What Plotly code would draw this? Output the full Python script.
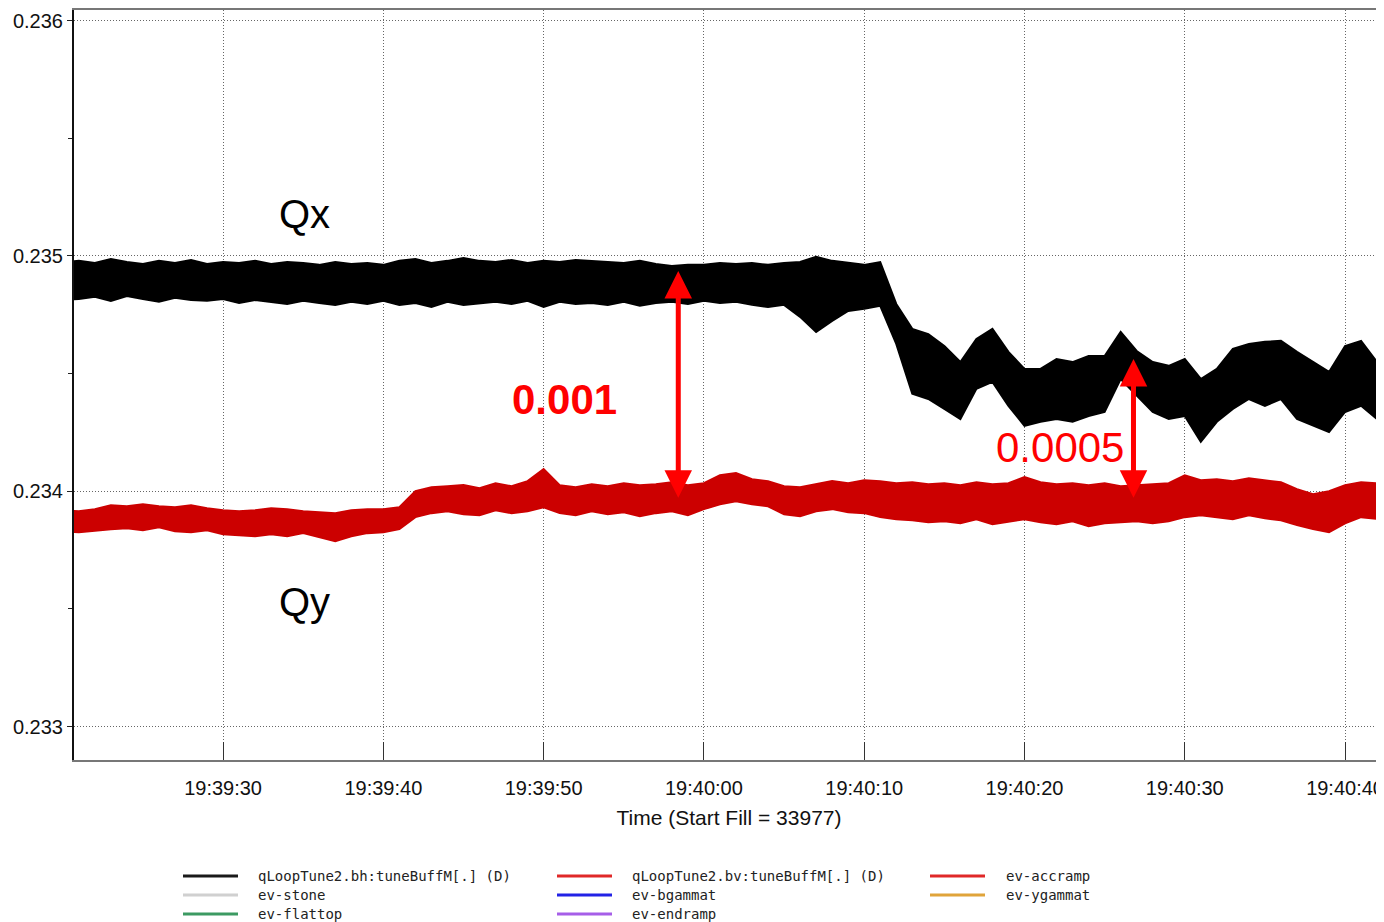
import pandas as pd
import plotly.graph_objects as go

# ---------------- data ----------------
# seconds after 19:39:00
t_sec = list(range(20, 104))

qx_hi = [0.234975, 0.234979, 0.234970, 0.234987, 0.234974, 0.234966, 0.234979, 0.234970, 0.234983, 0.234966,
         0.234974, 0.234970, 0.234979, 0.234966, 0.234974, 0.234970, 0.234962, 0.234974, 0.234966, 0.234970,
         0.234962, 0.234979, 0.234987, 0.234970, 0.234979, 0.234991, 0.234979, 0.234974, 0.234983, 0.234970,
         0.234979, 0.234974, 0.234983, 0.234979, 0.234974, 0.234970, 0.234979, 0.234966, 0.234957, 0.234962,
         0.234962, 0.234970, 0.234966, 0.234970, 0.234962, 0.234970, 0.234974, 0.234996, 0.234979, 0.234970,
         0.234962, 0.234974, 0.234796, 0.234690, 0.234668, 0.234617, 0.234549, 0.234647, 0.234690, 0.234592,
         0.234520, 0.234520, 0.234562, 0.234549, 0.234575, 0.234575, 0.234677, 0.234596, 0.234549, 0.234533,
         0.234562, 0.234477, 0.234520, 0.234605, 0.234626, 0.234635, 0.234639, 0.234592, 0.234549, 0.234507,
         0.234617, 0.234639, 0.234549, 0.234560]
qx_lo = [0.234815, 0.234817, 0.234826, 0.234809, 0.234830, 0.234817, 0.234805, 0.234822, 0.234813, 0.234809,
         0.234817, 0.234800, 0.234813, 0.234805, 0.234796, 0.234809, 0.234800, 0.234792, 0.234805, 0.234796,
         0.234809, 0.234792, 0.234800, 0.234783, 0.234805, 0.234792, 0.234800, 0.234805, 0.234796, 0.234809,
         0.234783, 0.234805, 0.234796, 0.234800, 0.234792, 0.234805, 0.234788, 0.234800, 0.234805, 0.234796,
         0.234809, 0.234800, 0.234805, 0.234792, 0.234783, 0.234792, 0.234741, 0.234677, 0.234724, 0.234766,
         0.234775, 0.234788, 0.234626, 0.234414, 0.234392, 0.234350, 0.234307, 0.234435, 0.234465, 0.234363,
         0.234278, 0.234295, 0.234307, 0.234295, 0.234320, 0.234337, 0.234477, 0.234405, 0.234337, 0.234307,
         0.234320, 0.234210, 0.234295, 0.234350, 0.234392, 0.234363, 0.234392, 0.234307, 0.234278, 0.234252,
         0.234337, 0.234363, 0.234307, 0.234320]

qy_hi = [0.233917, 0.233915, 0.233924, 0.233941, 0.233936, 0.233945, 0.233936, 0.233932, 0.233941, 0.233928,
         0.233919, 0.233915, 0.233919, 0.233928, 0.233924, 0.233915, 0.233911, 0.233907, 0.233919, 0.233924,
         0.233924, 0.233932, 0.234000, 0.234017, 0.234021, 0.234026, 0.234013, 0.234034, 0.234021, 0.234043,
         0.234094, 0.234026, 0.234017, 0.234030, 0.234021, 0.234034, 0.234026, 0.234030, 0.234038, 0.234026,
         0.234034, 0.234068, 0.234077, 0.234051, 0.234043, 0.234021, 0.234017, 0.234030, 0.234043, 0.234034,
         0.234047, 0.234043, 0.234034, 0.234038, 0.234030, 0.234034, 0.234026, 0.234038, 0.234030, 0.234034,
         0.234060, 0.234038, 0.234030, 0.234034, 0.234026, 0.234034, 0.234021, 0.234026, 0.234030, 0.234034,
         0.234068, 0.234047, 0.234051, 0.234043, 0.234055, 0.234047, 0.234038, 0.234009, 0.233987, 0.234000,
         0.234026, 0.234038, 0.234034, 0.234030]
qy_lo = [0.233828, 0.233826, 0.233834, 0.233839, 0.233843, 0.233834, 0.233847, 0.233830, 0.233826, 0.233834,
         0.233817, 0.233813, 0.233809, 0.233817, 0.233809, 0.233822, 0.233805, 0.233788, 0.233809, 0.233822,
         0.233826, 0.233839, 0.233890, 0.233907, 0.233915, 0.233902, 0.233898, 0.233919, 0.233907, 0.233915,
         0.233932, 0.233907, 0.233898, 0.233915, 0.233902, 0.233911, 0.233894, 0.233907, 0.233915, 0.233898,
         0.233924, 0.233945, 0.233957, 0.233945, 0.233936, 0.233902, 0.233894, 0.233915, 0.233924, 0.233911,
         0.233907, 0.233890, 0.233881, 0.233877, 0.233868, 0.233872, 0.233864, 0.233881, 0.233860, 0.233872,
         0.233881, 0.233868, 0.233860, 0.233872, 0.233851, 0.233864, 0.233868, 0.233872, 0.233864, 0.233872,
         0.233890, 0.233898, 0.233890, 0.233881, 0.233898, 0.233885, 0.233877, 0.233856, 0.233839, 0.233826,
         0.233864, 0.233890, 0.233881, 0.233875]

y_ticks = [0.233, 0.234, 0.235, 0.236]
x_tick_seconds = [30, 40, 50, 60, 70, 80, 90, 100]

legend_names = ["qLoopTune2.bh:tuneBuffM[.] (D)", "ev-stone", "ev-flattop",
                "qLoopTune2.bv:tuneBuffM[.] (D)", "ev-bgammat", "ev-endramp",
                "ev-accramp", "ev-ygammat"]
legend_colors = ["#1a1a1a", "#d0d0d0", "#3c9a62",
                 "#e02828", "#2222e6", "#a65ee8",
                 "#e02828", "#e0a43a"]

# annotation values
gap_big = (58.4, 0.234936, 0.233966)     # time, upper tip, lower tip
gap_small = (86.8, 0.234562, 0.233966)

# ---------------- build ----------------
base = pd.Timestamp("2020-01-01 19:39:00")
def ts(s):
    return base + pd.to_timedelta(s, unit="s")

xs = [ts(s) for s in t_sec]

fig = go.Figure()

def band(hi, lo, color, name):
    fig.add_trace(go.Scatter(
        x=xs + xs[::-1], y=hi + lo[::-1], fill="toself", fillcolor=color,
        line=dict(color=color, width=2), mode="lines", name=name, showlegend=False,
        hoverinfo="skip"))

band(qx_hi, qx_lo, "#000000", legend_names[0])
band(qy_hi, qy_lo, "#cc0000", legend_names[3])

# text labels
fig.add_annotation(x=ts(35.05), y=0.235178, text="Qx", showarrow=False,
                   font=dict(family="Liberation Sans, Arial", size=40, color="black"))
fig.add_annotation(x=ts(35.05), y=0.233530, text="Qy", showarrow=False,
                   font=dict(family="Liberation Sans, Arial", size=40, color="black"))
fig.add_annotation(x=ts(51.33), y=0.234392, text="<b>0.001</b>", showarrow=False,
                   font=dict(family="Liberation Sans, Arial", size=42, color="#ff0000"))
fig.add_annotation(x=ts(82.22), y=0.234188, text="0.0005", showarrow=False,
                   font=dict(family="Liberation Sans, Arial", size=42, color="#ff0000"))

for (tt, top, bot) in (gap_big, gap_small):
    fig.add_annotation(x=ts(tt), y=top, ax=ts(tt), ay=bot, xref="x", yref="y",
                       axref="x", ayref="y", showarrow=True, text="",
                       arrowhead=2, startarrowhead=2, arrowside="end+start",
                       arrowwidth=5, arrowsize=1.1, startarrowsize=1.1,
                       arrowcolor="#ff0000", standoff=0, startstandoff=0)

# The page body adds an 8px margin, so the figure is sized/offset to compensate.
OFF = 8
W, H = 1384 - OFF, 922 - OFF
L, R, T, B = 74 - OFF, 1384 - OFF, 10 - OFF, 760 - OFF

def px(x):
    return (x - OFF - L) / (R - L)
def py(y):
    return (B - (y - OFF)) / (B - T)

# manual legend (three columns), positions in screen pixels
col_line_x = [183, 557, 930]
col_text_x = [256, 630, 1004]
row_y = [876, 895, 914]
for i, (nm, col) in enumerate(zip(legend_names, legend_colors)):
    c, r = divmod(i, 3)
    fig.add_shape(type="line", xref="paper", yref="paper",
                  x0=px(col_line_x[c]), x1=px(col_line_x[c] + 55),
                  y0=py(row_y[r]), y1=py(row_y[r]),
                  line=dict(color=col, width=3))
    fig.add_annotation(xref="paper", yref="paper", x=px(col_text_x[c]), y=py(row_y[r]),
                       text=nm, showarrow=False, xanchor="left", yanchor="middle",
                       font=dict(family="DejaVu Sans Mono, Liberation Mono", size=14,
                                 color="#222222"))

tick_font = dict(family="Liberation Sans, Arial", size=20, color="#111111")
grid_dash = "1px,2px"
fig.update_layout(
    width=W, height=H,
    margin=dict(l=L, r=0, t=T, b=H - B, pad=0),
    paper_bgcolor="white", plot_bgcolor="white",
    showlegend=False,
    xaxis=dict(
        type="date", range=[ts(20.7), ts(102.43)],
        tickvals=[ts(s) for s in x_tick_seconds], tickformat="%H:%M:%S",
        tickfont=tick_font, ticks="inside", ticklen=18, tickcolor="#333",
        ticklabelstandoff=9,
        showgrid=True, gridcolor="#666666", griddash=grid_dash, gridwidth=1,
        showline=True, linecolor="#777777", linewidth=2, mirror=True,
        zeroline=False,
        title=dict(text="Time (Start Fill = 33977)",
                   font=dict(family="Liberation Sans, Arial", size=21, color="#111111"),
                   standoff=12),
    ),
    yaxis=dict(
        range=[0.232858, 0.236045], tickvals=y_ticks, tickformat=".3f",
        tickfont=tick_font, ticks="outside", ticklen=5, tickcolor="#222",
        minor=dict(dtick=0.0005, tick0=0.233, ticks="outside", ticklen=4, tickcolor="#222",
                   showgrid=False),
        showgrid=True, gridcolor="#666666", griddash=grid_dash, gridwidth=1,
        showline=True, linecolor="#111111", linewidth=2,
        zeroline=False,
    ),
)

fig.write_html("out.html")
